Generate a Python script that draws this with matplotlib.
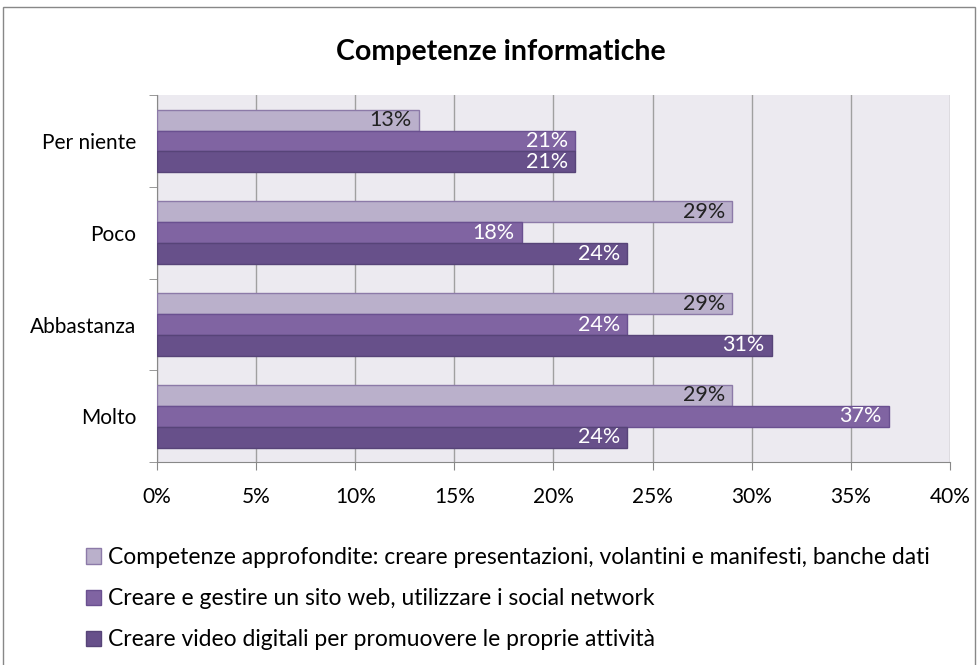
import matplotlib
matplotlib.use('Agg')
import matplotlib.pyplot as plt
import numpy as np
from matplotlib.patches import Patch, Rectangle

plt.rcParams['font.family'] = ['Lato', 'DejaVu Sans']

categorie = ['Per niente', 'Poco', 'Abbastanza', 'Molto']
serie = ['Competenze approfondite: creare presentazioni, volantini e manifesti, banche dati',
         'Creare e gestire un sito web, utilizzare i social network',
         'Creare video digitali per promuovere le proprie attività']
valori_1 = [13.2, 29.0, 29.0, 29.0]
valori_2 = [21.1, 18.4, 23.7, 36.9]
valori_3 = [21.1, 23.7, 31.0, 23.7]
etichette_1 = ['13%', '29%', '29%', '29%']
etichette_2 = ['21%', '18%', '24%', '37%']
etichette_3 = ['21%', '24%', '31%', '24%']

colori = ['#BAB0CB', '#8064A2', '#67508A']
bordi = ['#8C7AA8', '#6A5090', '#574478']
col_testo = ['#222222', 'white', 'white']

fig = plt.figure(figsize=(9.78, 6.65), dpi=100)
ax = fig.add_axes([0.1605, 0.305, 0.8109, 0.552])
ax.set_facecolor('#ECEAF0')

y = np.arange(len(categorie))
h = 0.228
dati = [valori_1, valori_2, valori_3]
etichette = [etichette_1, etichette_2, etichette_3]
for i in range(3):
    pos = y + (i - 1) * h
    ax.barh(pos, dati[i], height=h, color=colori[i], edgecolor=bordi[i], linewidth=1, zorder=3)
    for p, v, t in zip(pos, dati[i], etichette[i]):
        ax.text(v - 0.35, p, t, ha='right', va='center', fontsize=15.5, color=col_testo[i], zorder=4)

ax.set_xlim(0, 40)
ax.set_ylim(len(categorie) - 0.5, -0.5)
ax.set_xticks(np.arange(0, 41, 5))
ax.set_xticklabels([f'{v}%' for v in range(0, 41, 5)], fontsize=15)
ax.set_yticks(y)
ax.set_yticklabels(categorie, fontsize=15)
ax.set_yticks(np.arange(-0.5, len(categorie), 1), minor=True)
ax.tick_params(axis='y', which='major', length=0, pad=15)
ax.tick_params(axis='y', which='minor', length=6, color='#888888')
ax.tick_params(axis='x', length=6, color='#888888', pad=12)
ax.grid(axis='x', color='#A0A0A0', linewidth=1, zorder=0)
for s in ['top', 'right']:
    ax.spines[s].set_visible(False)
ax.spines['left'].set_color('#888888')
ax.spines['bottom'].set_color('#888888')

fig.text(0.512, 0.922, 'Competenze informatiche', ha='center', va='center',
         fontsize=20.5, fontweight='bold')

maniglie = [Patch(facecolor=colori[i], edgecolor=bordi[i], label=serie[i]) for i in range(3)]
fig.legend(handles=maniglie, loc='upper left', bbox_to_anchor=(0.079, 0.191),
           frameon=False, fontsize=16.5, labelspacing=0.88, handlelength=0.65,
           handleheight=0.65, handletextpad=0.3, borderaxespad=0)

fig.patches.append(Rectangle((0.003, -0.01), 0.994, 1.0, transform=fig.transFigure,
                             fill=False, edgecolor='#888888', linewidth=1))

fig.savefig('out.png', dpi=100)
